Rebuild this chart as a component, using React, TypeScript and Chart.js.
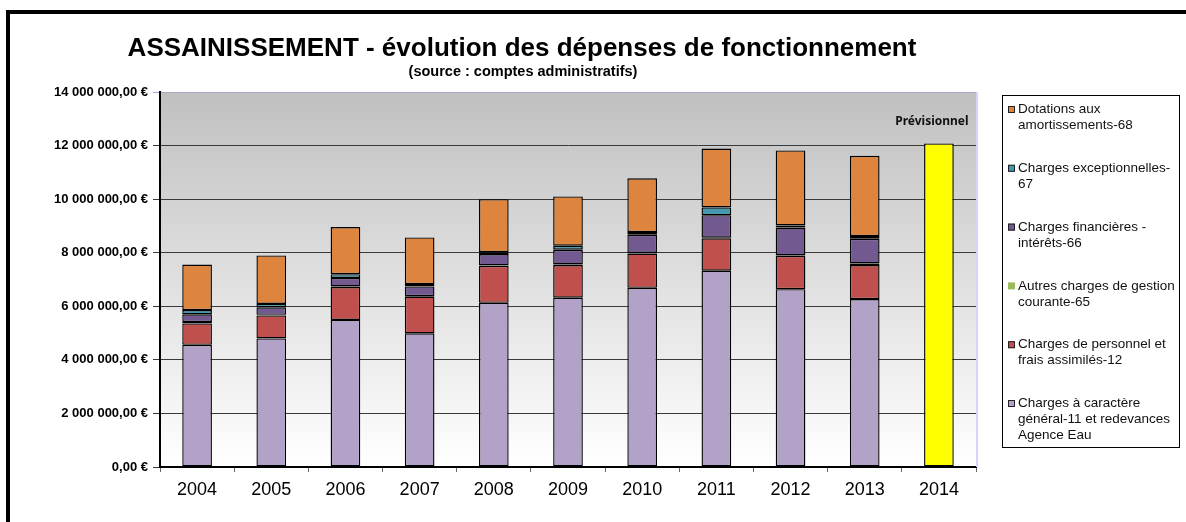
import React, { useEffect, useRef } from 'react';
import { Chart, registerables } from 'chart.js';

Chart.register(...registerables);

// ---------- DATA ----------
const YEARS = ['2004', '2005', '2006', '2007', '2008', '2009', '2010', '2011', '2012', '2013', '2014'];

const GENERAL_11 = [4560000, 4800000, 5490000, 4990000, 6130000, 6320000, 6690000, 7330000, 6640000, 6270000, null];
const PERSONNEL_12 = [800000, 860000, 1230000, 1370000, 1380000, 1220000, 1280000, 1210000, 1240000, 1270000, null];
const AUTRES_65 = [50000, 20000, 20000, 20000, 20000, 20000, 20000, 20000, 20000, 60000, null];
const FINANCIERES_66 = [290000, 280000, 320000, 360000, 420000, 550000, 680000, 840000, 1040000, 920000, null];
const EXCEPTIONNELLES_67 = [160000, 130000, 140000, 90000, 70000, 150000, 100000, 290000, 80000, 100000, null];
const DOTATIONS_68 = [1700000, 1810000, 1760000, 1740000, 1980000, 1840000, 2010000, 2200000, 2800000, 3000000, null];
const PREVISIONNEL = [null, null, null, null, null, null, null, null, null, null, 12080000];

const LEGEND_LINES = [
  ['Charges à caractère', 'général-11 et redevances', 'Agence Eau'],
  ['Charges de personnel et', 'frais assimilés-12'],
  ['Autres charges de gestion', 'courante-65'],
  ['Charges financières -', 'intérêts-66'],
  ['Charges exceptionnelles-', '67'],
  ['Dotations aux', 'amortissements-68'],
];

const TITLE = 'ASSAINISSEMENT - évolution des dépenses de fonctionnement';
const SUBTITLE = '(source : comptes administratifs)';
const FORECAST_LABEL = 'Prévisionnel';

const Y_MAX = 14000000;
const Y_STEP = 2000000;

const COLORS = ['#b3a2c7', '#c0504d', '#9bbb59', '#725990', '#4198af', '#dd843e', '#ffff00'];

const FONT = '"Liberation Sans", Arial, sans-serif';

function fmtEuro(v: number): string {
  const s = Math.round(v).toString().replace(/\B(?=(\d{3})+(?!\d))/g, ' ');
  return s + ',00 €';
}

const decorPlugin = {
  id: 'decor',
  beforeDraw(chart: any) {
    const { ctx, chartArea } = chart;
    const W = chart.width;
    const H = chart.height;
    ctx.save();
    ctx.fillStyle = '#ffffff';
    ctx.fillRect(0, 0, W, H);
    // outer frame (top + left visible)
    ctx.strokeStyle = '#000';
    ctx.lineWidth = 4;
    ctx.strokeRect(8, 12, W + 20, H + 20);
    // plot gradient
    const g = ctx.createLinearGradient(0, chartArea.top, 0, chartArea.bottom);
    g.addColorStop(0, '#c0c0c0');
    g.addColorStop(1, '#ffffff');
    ctx.fillStyle = g;
    ctx.fillRect(chartArea.left, chartArea.top, chartArea.right - chartArea.left, chartArea.bottom - chartArea.top);
    ctx.restore();
  },
  afterDraw(chart: any) {
    const { ctx, chartArea } = chart;
    ctx.save();
    // right edge of plot
    ctx.strokeStyle = '#d4d4ff';
    ctx.lineWidth = 2;
    ctx.beginPath();
    ctx.moveTo(chartArea.right + 1, chartArea.top);
    ctx.lineTo(chartArea.right + 1, chartArea.bottom);
    ctx.stroke();

    // title
    ctx.fillStyle = '#000';
    ctx.textAlign = 'center';
    ctx.textBaseline = 'alphabetic';
    ctx.font = `bold 26px ${FONT}`;
    ctx.fillText(TITLE, 522, 55.5);
    ctx.font = `bold 14.5px ${FONT}`;
    ctx.fillText(SUBTITLE, 523, 76);

    // forecast label
    const meta = chart.getDatasetMeta(6);
    const el = meta && meta.data[10];
    if (el) {
      ctx.font = 'bold 12px "Noto Sans", "Open Sans", sans-serif';
      ctx.textBaseline = 'middle';
      ctx.fillStyle = '#111';
      ctx.fillText(FORECAST_LABEL, el.x - 7, el.y - 21.5);
    }

    // legend
    const bx = 1002.5, by = 95.5, bw = 177, bh = 352;
    ctx.fillStyle = '#fff';
    ctx.fillRect(bx, by, bw, bh);
    ctx.strokeStyle = '#000';
    ctx.lineWidth = 1;
    ctx.strokeRect(bx, by, bw, bh);
    ctx.font = `13.5px ${FONT}`;
    ctx.textAlign = 'left';
    ctx.textBaseline = 'middle';
    const order = [5, 4, 3, 2, 1, 0];
    order.forEach((di, i) => {
      const y0 = 109.5 + i * 58.8;
      const ds = chart.data.datasets[di];
      ctx.fillStyle = ds.backgroundColor;
      ctx.fillRect(1008, y0 - 3.5, 7, 7);
      if (di !== 2) {
        ctx.strokeStyle = '#222';
        ctx.strokeRect(1008.5, y0 - 3, 6, 6);
      }
      ctx.fillStyle = '#111';
      LEGEND_LINES[di].forEach((line, j) => {
        ctx.fillText(line, 1018, y0 + j * 16);
      });
    });
    ctx.restore();
  },
};

export default function App() {
  const ref = useRef<HTMLCanvasElement | null>(null);

  useEffect(() => {
    document.body.style.margin = '0';
    const canvas = ref.current;
    if (!canvas) return;
    const seriesData = [GENERAL_11, PERSONNEL_12, AUTRES_65, FINANCIERES_66, EXCEPTIONNELLES_67, DOTATIONS_68, PREVISIONNEL];
    const labels = [...LEGEND_LINES.map((l) => l.join(' ')), FORECAST_LABEL];
    const chart = new Chart(canvas, {
      type: 'bar',
      data: {
        labels: YEARS,
        datasets: seriesData.map((d, i) => ({
          label: labels[i],
          data: d,
          backgroundColor: COLORS[i],
          borderColor: '#000',
          borderWidth: 1.4,
          borderSkipped: false,
          barPercentage: 0.4,
          categoryPercentage: 1,
          stack: 'a',
        })),
      },
      options: {
        animation: false,
        responsive: false,
        maintainAspectRatio: false,
        layout: { padding: { left: 0, right: 210, top: 92, bottom: 0 } },
        plugins: {
          legend: { display: false },
          title: { display: false },
          tooltip: { enabled: false },
        },
        scales: {
          x: {
            stacked: true,
            afterFit: (s: any) => { s.height = 55; },
            grid: {
              display: true,
              drawOnChartArea: false,
              drawTicks: true,
              tickLength: 5,
              color: '#666',
              offset: true,
            },
            border: { display: true, color: '#000', width: 2 },
            ticks: {
              color: '#000',
              font: { family: FONT, size: 18 },
              padding: 7,
              maxRotation: 0,
            },
          },
          y: {
            stacked: true,
            min: 0,
            max: Y_MAX,
            afterFit: (s: any) => { s.width = 160; },
            grid: {
              color: (c: any) => (c.tick && c.tick.value === Y_MAX ? '#a6a8cc' : '#3a3a3a'),
              lineWidth: 1,
              drawTicks: true,
              tickLength: 7,
            },
            border: { display: true, color: '#000', width: 2 },
            ticks: {
              stepSize: Y_STEP,
              color: '#000',
              font: { family: FONT, size: 13, weight: 'bold' },
              padding: 5,
              callback: (v: any) => fmtEuro(Number(v)),
            },
          },
        },
      },
      plugins: [decorPlugin],
    });
    return () => chart.destroy();
  }, []);

  return <canvas ref={ref} width={1186} height={522} style={{ display: 'block', width: 1186, height: 522 }} />;
}
